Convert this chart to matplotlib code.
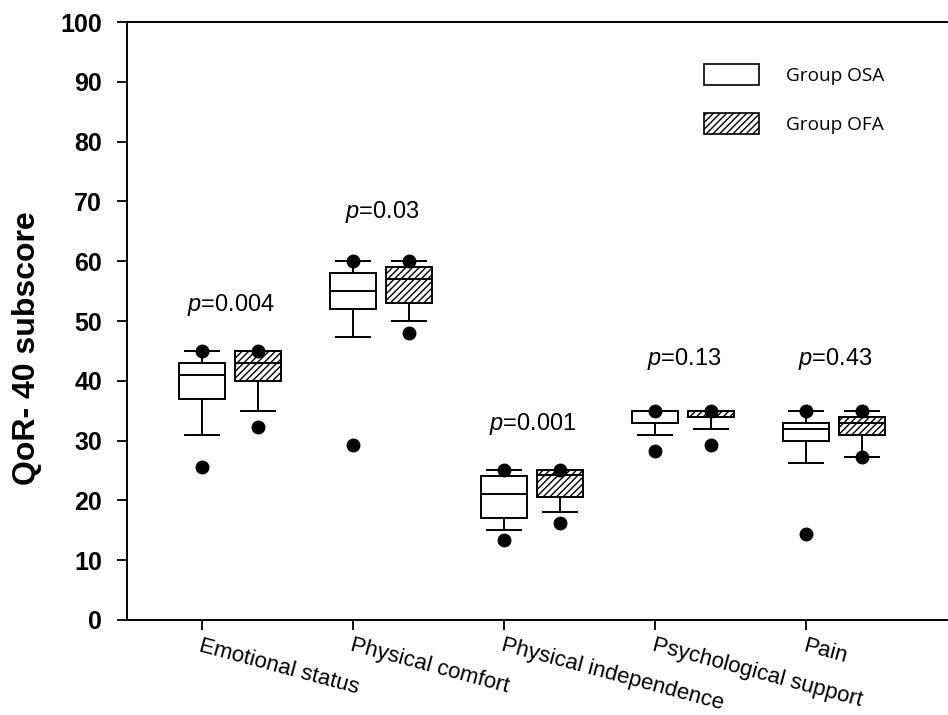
import numpy as np
import matplotlib.pyplot as plt
from matplotlib.patches import Patch

plt.rcParams['font.family'] = ['Liberation Sans', 'DejaVu Sans']
plt.rcParams['mathtext.fontset'] = 'custom'
plt.rcParams['mathtext.it'] = 'Liberation Sans:italic'
plt.rcParams['mathtext.rm'] = 'Liberation Sans'
plt.rcParams['hatch.linewidth'] = 1.0

categories = ['Emotional status', 'Physical comfort', 'Physical independence',
              'Psychological support', 'Pain']

# box statistics
osa_q1 = [37, 52, 17, 33, 30]
osa_med = [41, 55, 21, 35, 32]
osa_q3 = [43, 58, 24, 35, 33]
osa_lo = [31, 47.3, 15, 31, 26.3]
osa_hi = [45, 60, 25, 35, 35]
osa_dots = [[25.5, 45], [29.3, 60], [13.3, 25], [28.2, 35], [14.3, 35]]

ofa_q1 = [40, 53, 20.6, 34, 31]
ofa_med = [43, 57, 24.3, 35, 33]
ofa_q3 = [45, 59, 25, 35, 34]
ofa_lo = [35, 50, 18, 32, 27.3]
ofa_hi = [45, 60, 25, 35, 35]
ofa_dots = [[32.3, 45], [48, 60], [16.2, 25], [29.2, 35], [27.2, 35]]

p_labels = ['0.004', '0.03', '0.001', '0.13', '0.43']
p_y = [52.7, 68.2, 32.8, 43.7, 43.7]

groups = ['Group OSA', 'Group OFA']


def make_stats(q1, med, q3, lo, hi, dots):
    return [dict(q1=a, med=b, q3=c, whislo=d, whishi=e, fliers=f)
            for a, b, c, d, e, f in zip(q1, med, q3, lo, hi, dots)]


fig = plt.figure(figsize=(9.48, 7.15), dpi=100)
ax = fig.add_axes([0.134, 0.133, 0.866, 0.836])

ind = np.arange(len(categories))
width = 0.31
offset = 0.37
line = dict(color='black', linewidth=1.4)
flier = dict(marker='o', markerfacecolor='black', markeredgecolor='black',
             markersize=9, linestyle='none')

b1 = ax.bxp(make_stats(osa_q1, osa_med, osa_q3, osa_lo, osa_hi, osa_dots),
            positions=ind, widths=width, capwidths=0.23, patch_artist=True,
            boxprops=dict(facecolor='white', edgecolor='black', linewidth=1.4),
            medianprops=line, whiskerprops=line, capprops=line,
            flierprops=flier, manage_ticks=False)
b2 = ax.bxp(make_stats(ofa_q1, ofa_med, ofa_q3, ofa_lo, ofa_hi, ofa_dots),
            positions=ind + offset, widths=width, capwidths=0.23, patch_artist=True,
            boxprops=dict(facecolor='white', edgecolor='black', linewidth=1.4,
                          hatch='/////'),
            medianprops=line, whiskerprops=line, capprops=line,
            flierprops=flier, manage_ticks=False)
for b in (b1, b2):
    for f in b['fliers']:
        f.set_zorder(5)

for i, (p, y) in enumerate(zip(p_labels, p_y)):
    ax.text(i + 0.19, y, r'$\it{p}$=' + p, ha='center', va='center', fontsize=17)

ax.set_xlim(-0.497, 4.94)
ax.set_ylim(0, 100)
ax.set_yticks(np.arange(0, 101, 10))
ax.set_xticks(ind)
ax.set_xticklabels(categories, rotation=-15, ha='left', va='top',
                   rotation_mode='anchor', fontsize=16)
for lab in ax.get_yticklabels():
    lab.set_fontweight('bold')
ax.tick_params(axis='y', labelsize=18, length=7, width=1.3, direction='out', pad=11)
ax.tick_params(axis='x', length=7, width=1.3, direction='out', pad=4)
ax.spines['right'].set_visible(False)
for s in ('left', 'bottom', 'top'):
    ax.spines[s].set_linewidth(1.4)
ax.set_ylabel('QoR- 40 subscore', fontsize=23, fontweight='bold')
ax.yaxis.set_label_coords(-0.104, 0.455)

handles = [Patch(facecolor='white', edgecolor='black', linewidth=1.2),
           Patch(facecolor='white', edgecolor='black', linewidth=1.2, hatch='/////')]
ax.legend(handles, groups, loc='upper left', bbox_to_anchor=(704 / 948, 1 - 64 / 715),
          bbox_transform=fig.transFigure, frameon=False,
          prop={'family': 'Open Sans', 'size': 13.7},
          handlelength=2.9, handleheight=1.3, handletextpad=1.4,
          labelspacing=1.5, borderpad=0, borderaxespad=0)

fig.savefig('out.png', dpi=100)
